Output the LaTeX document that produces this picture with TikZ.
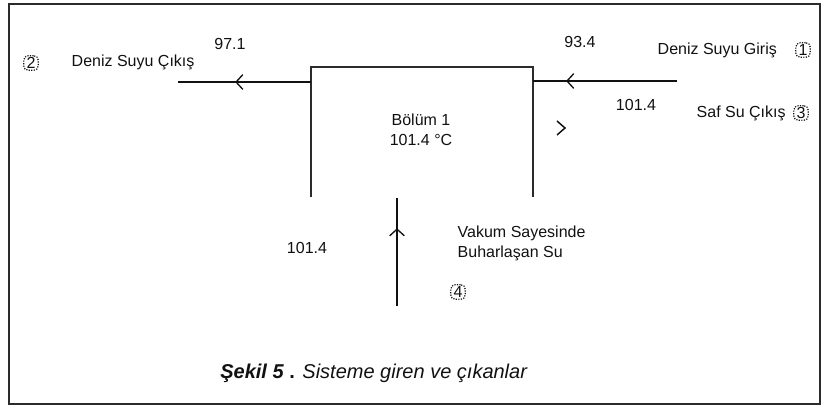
\documentclass[tikz,border=0pt]{standalone}
\usepackage{fontspec}
\setmainfont{Liberation Sans}
\usetikzlibrary{arrows.meta,positioning,decorations.markings}
\definecolor{ink}{HTML}{111111}
\definecolor{wall}{HTML}{2B2B2B}
\tikzset{
  x=0.75pt, y=-0.75pt,
  every node/.style={font=\fontsize{12}{15}\selectfont, text=ink},
  frame/.style={draw=wall, line width=1.3pt},
  wallline/.style={draw=wall, line width=1.6pt},
  stream/.style={draw=ink, line width=1.1pt},
  midarrow/.style={postaction={decorate}, decoration={markings,
      mark=at position #1 with {\arrow{Straight Barb[length=5pt,width=11pt,line width=1pt]}}}},
  portnum/.style={draw=ink, densely dotted, rounded corners=3.5pt, inner sep=1pt,
      minimum width=11pt, minimum height=11pt, line width=0.9pt},
  note/.style={align=left},
}

\begin{document}
\begin{tikzpicture}
  \useasboundingbox (0,0) rectangle (827,408);
  \draw[frame] (9,4) rectangle (820,404);

  % chamber, open at the bottom
  \coordinate (bl) at (311,197);
  \coordinate (tl) at (311,67);
  \coordinate (tr) at (533,67);
  \coordinate (br) at (533,197);
  \draw[wallline] (bl) -- (tl) -- (tr) -- (br);
  \node[align=center] (chamber) at (421,130) {Bölüm 1\\101.4 °C};

  % streams
  \coordinate (w) at (311,82);
  \coordinate (out2) at (178,82);
  \coordinate (e) at (533,81);
  \coordinate (in1) at (677,81);
  \coordinate (in4) at (397,306);
  \coordinate (bot) at (397,198);
  \draw[stream, midarrow=0.57] (w) -- (out2);
  \draw[stream, midarrow=0.77] (in1) -- (e);
  \draw[stream, midarrow=0.72] (in4) -- (bot);
  \draw[stream] (557,121) -- (565,128) -- (557,135);

  % labels
  \node (t2) at (230,44) {97.1};
  \node[anchor=west] (n2) at (67,62) {Deniz Suyu Çıkış};
  \node[portnum] (p2) at (31,63) {2};

  \node (t1) at (580,42) {93.4};
  \node[anchor=west] (n1) at (653,50) {Deniz Suyu Giriş};
  \node[portnum] (p1) at (803,50) {1};

  \node (t3) at (636,105) {101.4};
  \node[anchor=west] (n3) at (692,113) {Saf Su Çıkış};
  \node[portnum] (p3) at (801,113) {3};

  \node (t4) at (307,248) {101.4};
  \node[note, anchor=west] (n4) at (453,243) {Vakum Sayesinde\\Buharlaşan Su};
  \node[portnum] (p4) at (458,292) {4};

  \node[font=\fontsize{15}{18}\selectfont] (cap) at (374,373)
    {\textbf{\textit{Şekil 5}} \textbf{.} \textit{Sisteme giren ve çıkanlar}};
\end{tikzpicture}
\end{document}
